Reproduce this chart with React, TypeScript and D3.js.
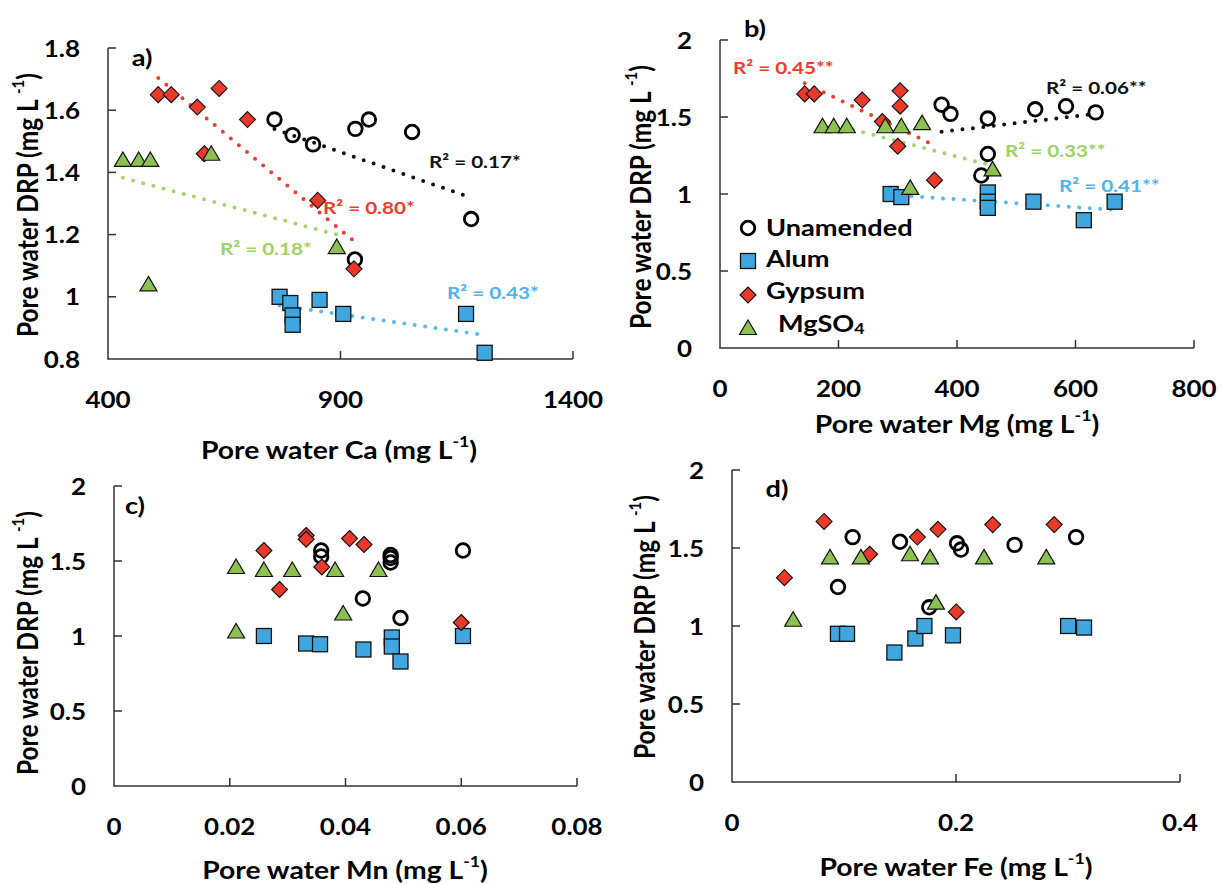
import { useEffect, useRef } from 'react';
import * as d3 from 'd3';

// ---- data: [x, DRP] ----
// a) pore water Ca
const caUnamended = [[758, 1.57], [797, 1.52], [841, 1.49], [932, 1.54], [961, 1.57], [1054, 1.53], [1181, 1.25], [931, 1.12]];
const caAlum = [[769, 1.0], [792, 0.98], [797, 0.94], [797, 0.91], [855, 0.99], [906, 0.945], [1170, 0.945], [1210, 0.82]];
const caGypsum = [[508, 1.65], [536, 1.65], [592, 1.61], [639, 1.67], [700, 1.57], [607, 1.46], [851, 1.31], [929, 1.09]];
const caMgSO4 = [[432, 1.44], [466, 1.44], [491, 1.44], [622, 1.46], [892, 1.16], [487, 1.04]];

// b) pore water Mg
const mgUnamended = [[374, 1.58], [389, 1.52], [452, 1.49], [452, 1.26], [441, 1.12], [532, 1.55], [584, 1.57], [634, 1.53]];
const mgAlum = [[288, 1.0], [306, 0.98], [452, 1.01], [452, 0.95], [452, 0.91], [529, 0.95], [614, 0.83], [666, 0.95]];
const mgGypsum = [[143, 1.65], [159, 1.65], [240, 1.61], [304, 1.67], [304, 1.57], [274, 1.47], [300, 1.31], [362, 1.09]];
const mgMgSO4 = [[173, 1.44], [192, 1.44], [214, 1.44], [279, 1.44], [306, 1.44], [341, 1.46], [460, 1.16], [321, 1.04]];

// c) pore water Mn
const mnUnamended = [[0.0358, 1.57], [0.0358, 1.53], [0.0478, 1.54], [0.0478, 1.52], [0.0478, 1.49], [0.0603, 1.57], [0.043, 1.25], [0.0495, 1.12]];
const mnAlum = [[0.0259, 1.0], [0.0332, 0.95], [0.0356, 0.945], [0.0431, 0.91], [0.048, 0.99], [0.048, 0.93], [0.0495, 0.83], [0.0603, 1.0]];
const mnGypsum = [[0.0332, 1.67], [0.0332, 1.645], [0.0259, 1.57], [0.0407, 1.65], [0.0432, 1.61], [0.0359, 1.46], [0.0286, 1.31], [0.06, 1.09]];
const mnMgSO4 = [[0.0211, 1.46], [0.0259, 1.44], [0.0308, 1.44], [0.0382, 1.44], [0.0457, 1.44], [0.0396, 1.15], [0.0211, 1.03]];

// d) pore water Fe
const feUnamended = [[0.1077, 1.57], [0.15, 1.54], [0.2009, 1.53], [0.2044, 1.49], [0.2523, 1.52], [0.3072, 1.57], [0.0946, 1.25], [0.1761, 1.12]];
const feAlum = [[0.0946, 0.95], [0.1027, 0.95], [0.145, 0.83], [0.1637, 0.92], [0.1718, 1.0], [0.1973, 0.94], [0.3001, 1.0], [0.3143, 0.99]];
const feGypsum = [[0.0822, 1.67], [0.1655, 1.57], [0.1839, 1.62], [0.2328, 1.65], [0.2877, 1.65], [0.1229, 1.46], [0.0468, 1.31], [0.2002, 1.09]];
const feMgSO4 = [[0.0875, 1.44], [0.1151, 1.44], [0.159, 1.46], [0.1768, 1.44], [0.225, 1.44], [0.2806, 1.44], [0.1821, 1.15], [0.0546, 1.04]];

// ticks
const caTicks = [400, 900, 1400];
const mgTicks = [0, 200, 400, 600, 800];
const mnTicks = [0, 0.02, 0.04, 0.06, 0.08];
const feTicks = [0, 0.2, 0.4];
const drpTicksA = [0.8, 1, 1.2, 1.4, 1.6, 1.8];
const drpTicks = [0, 0.5, 1, 1.5, 2];

// legend + R² labels
const treatments = ['Unamended', 'Alum', 'Gypsum', 'MgSO4'];
const r2Ca = ['R² = 0.17*', 'R² = 0.43*', 'R² = 0.80*', 'R² = 0.18*'];
const r2Mg = ['R² = 0.06**', 'R² = 0.41**', 'R² = 0.45**', 'R² = 0.33**'];

const W = 1222;
const H = 884;
const FONT = 'Lato, "Open Sans", sans-serif';
const SX = 1.18; // the source figure's lettering is a bit wide
const fill = ['none', '#3fa6e0', '#e8392a', '#8cc152'];
const trendColor = ['#111111', '#5ab8f0', '#f03c2e', '#a4d46c'];
const textColor = ['#111111', '#4fb3ee', '#f03c2e', '#9ed264'];

const panels = [
  {
    letter: 'a)', element: 'Ca', xDomain: [400, 1400], yDomain: [0.8, 1.8], xTicks: caTicks, yTicks: drpTicksA,
    left: 108, right: 573, top: 48, bottom: 359,
    titleX: 339, titleY: 450, yTitleX: 27, yTitleY: 205, letterX: 142, letterY: 57,
    series: [caUnamended, caAlum, caGypsum, caMgSO4], r2: r2Ca,
    r2Pos: [[429, 161], [447, 292], [323, 207], [220, 248]],
  },
  {
    letter: 'b)', element: 'Mg', xDomain: [0, 800], yDomain: [0, 2], xTicks: mgTicks, yTicks: drpTicks,
    left: 720, right: 1194, top: 40, bottom: 348,
    titleX: 957, titleY: 424, yTitleX: 640, yTitleY: 197, letterX: 755, letterY: 28,
    series: [mgUnamended, mgAlum, mgGypsum, mgMgSO4], r2: r2Mg,
    r2Pos: [[1046, 87], [1059, 185], [733, 67], [1005, 150]],
  },
  {
    letter: 'c)', element: 'Mn', xDomain: [0, 0.08], yDomain: [0, 2], xTicks: mnTicks, yTicks: drpTicks,
    left: 114, right: 577, top: 486, bottom: 786,
    titleX: 345, titleY: 870, yTitleX: 27, yTitleY: 643, letterX: 135, letterY: 505,
    series: [mnUnamended, mnAlum, mnGypsum, mnMgSO4], r2: null, r2Pos: null,
  },
  {
    letter: 'd)', element: 'Fe', xDomain: [0, 0.4], yDomain: [0, 2], xTicks: feTicks, yTicks: drpTicks,
    left: 732, right: 1180, top: 470, bottom: 782,
    titleX: 956, titleY: 867, yTitleX: 644, yTitleY: 627, letterX: 777, letterY: 488,
    series: [feUnamended, feAlum, feGypsum, feMgSO4], r2: null, r2Pos: null,
  },
];

const fmt = (d: number) => String(+d.toFixed(3));
const at = (x: number, y: number) => `translate(${x},${y}) scale(${SX},1)`;

// least squares fit, like the spreadsheet's linear trendline
function fit(pts: number[][]) {
  const mx = d3.mean(pts, p => p[0]) as number;
  const my = d3.mean(pts, p => p[1]) as number;
  const sxy = d3.sum(pts, p => (p[0] - mx) * (p[1] - my));
  const sxx = d3.sum(pts, p => (p[0] - mx) ** 2);
  const b = sxy / sxx;
  return (x: number) => my + b * (x - mx);
}

function drawMarker(g: any, kind: number, cx: number, cy: number) {
  if (kind === 0) {
    g.append('circle').attr('cx', cx).attr('cy', cy).attr('r', 6.8)
      .attr('fill', 'none').attr('stroke', '#000').attr('stroke-width', 2.8);
  } else if (kind === 1) {
    g.append('rect').attr('x', cx - 7.5).attr('y', cy - 7.5).attr('width', 15).attr('height', 15)
      .attr('fill', fill[1]).attr('stroke', '#111').attr('stroke-width', 1.3);
  } else if (kind === 2) {
    g.append('path').attr('d', `M${cx},${cy - 8}L${cx + 8},${cy}L${cx},${cy + 8}L${cx - 8},${cy}Z`)
      .attr('fill', fill[2]).attr('stroke', '#111').attr('stroke-width', 1.1);
  } else {
    g.append('path').attr('d', `M${cx},${cy - 8}L${cx + 8.5},${cy + 6.5}L${cx - 8.5},${cy + 6.5}Z`)
      .attr('fill', fill[3]).attr('stroke', '#111').attr('stroke-width', 1.2);
  }
}

function drawPanel(svg: any, p: any) {
  const x = d3.scaleLinear().domain(p.xDomain).range([p.left, p.right]);
  const y = d3.scaleLinear().domain(p.yDomain).range([p.bottom, p.top]);
  const g = svg.append('g');

  // axes, ticks pointing inward
  g.append('path').attr('d', `M${p.left},${p.top}V${p.bottom}H${p.right}`)
    .attr('fill', 'none').attr('stroke', '#333').attr('stroke-width', 1.5);
  g.selectAll('.yt').data(p.yTicks.slice(1)).join('line')
    .attr('x1', p.left).attr('x2', p.left + 8)
    .attr('y1', (d: number) => y(d)).attr('y2', (d: number) => y(d))
    .attr('stroke', '#333').attr('stroke-width', 1.5);
  g.selectAll('.xt').data(p.xTicks.slice(1)).join('line')
    .attr('x1', (d: number) => x(d)).attr('x2', (d: number) => x(d))
    .attr('y1', p.bottom).attr('y2', p.bottom - 8)
    .attr('stroke', '#333').attr('stroke-width', 1.5);

  g.selectAll('.yl').data(p.yTicks).join('text')
    .attr('transform', (d: number) => at(p.left - 28, y(d)))
    .attr('text-anchor', 'end').attr('dominant-baseline', 'central')
    .attr('font-size', 22).attr('font-weight', 700).text((d: number) => fmt(d));
  g.selectAll('.xl').data(p.xTicks).join('text')
    .attr('transform', (d: number) => at(x(d), p.bottom + 40))
    .attr('text-anchor', 'middle').attr('dominant-baseline', 'central')
    .attr('font-size', 22).attr('font-weight', 700).text((d: number) => fmt(d));

  // axis titles
  const xt = g.append('text').attr('transform', at(p.titleX, p.titleY))
    .attr('text-anchor', 'middle').attr('dominant-baseline', 'central')
    .attr('font-size', 24).attr('font-weight', 700);
  xt.append('tspan').text(`Pore water ${p.element} (mg L`);
  xt.append('tspan').attr('font-size', 15).attr('dy', -9).text('-1');
  xt.append('tspan').attr('dy', 9).text(')');

  const yt = g.append('text')
    .attr('transform', `translate(${p.yTitleX},${p.yTitleY}) rotate(-90) scale(1,${SX})`)
    .attr('text-anchor', 'middle').attr('dominant-baseline', 'central')
    .attr('font-size', 24.5).attr('font-weight', 700);
  yt.append('tspan').text('Pore water DRP (mg L ');
  yt.append('tspan').attr('font-size', 15).attr('dy', -9).text('-1');
  yt.append('tspan').attr('dy', 9).text(')');

  g.append('text').attr('transform', at(p.letterX, p.letterY))
    .attr('text-anchor', 'middle').attr('dominant-baseline', 'central')
    .attr('font-size', 23).attr('font-weight', 700).text(p.letter);

  // trendlines
  if (p.r2) {
    p.series.forEach((pts: number[][], i: number) => {
      const f = fit(pts);
      const [x0, x1] = d3.extent(pts, d => d[0]) as [number, number];
      const line = d3.line<number>().x(v => x(v)).y(v => y(f(v)));
      g.append('path').attr('d', line([x0, x1]))
        .attr('fill', 'none').attr('stroke', trendColor[i]).attr('stroke-width', 4)
        .attr('stroke-linecap', 'round').attr('stroke-dasharray', '0 10.5');
    });
  }

  // markers
  p.series.forEach((pts: number[][], i: number) => {
    pts.forEach(d => drawMarker(g, i, x(d[0]), y(d[1])));
  });

  if (p.r2) {
    p.r2.forEach((t: string, i: number) => {
      g.append('text').attr('transform', at(p.r2Pos[i][0], p.r2Pos[i][1]))
        .attr('dominant-baseline', 'central').attr('font-size', 17.5).attr('font-weight', 700)
        .attr('fill', textColor[i]).text(t);
    });
  }
}

function drawLegend(svg: any) {
  const g = svg.append('g');
  const rows = [228, 261, 295, 328];
  const textY = [227, 258, 290, 323];
  treatments.forEach((name, i) => {
    drawMarker(g, i, 748, rows[i]);
    const t = g.append('text').attr('transform', at(i === 3 ? 778 : 766, textY[i]))
      .attr('dominant-baseline', 'central').attr('font-size', 23).attr('font-weight', 700);
    if (name === 'MgSO4') {
      t.append('tspan').text('MgSO');
      t.append('tspan').attr('font-size', 15).attr('dy', 5).text('4');
    } else {
      t.text(name);
    }
  });
}

export default function App() {
  const svgRef = useRef<SVGSVGElement>(null);

  useEffect(() => {
    const svg = d3.select(svgRef.current);
    svg.selectAll('*').remove();
    svg.append('rect').attr('width', W).attr('height', H).attr('fill', '#fff');
    panels.forEach(p => drawPanel(svg, p));
    drawLegend(svg);
  }, []);

  return (
    <svg ref={svgRef} width={W} height={H}
      style={{ position: 'absolute', left: 0, top: 0, fontFamily: FONT, color: '#000' }} />
  );
}
